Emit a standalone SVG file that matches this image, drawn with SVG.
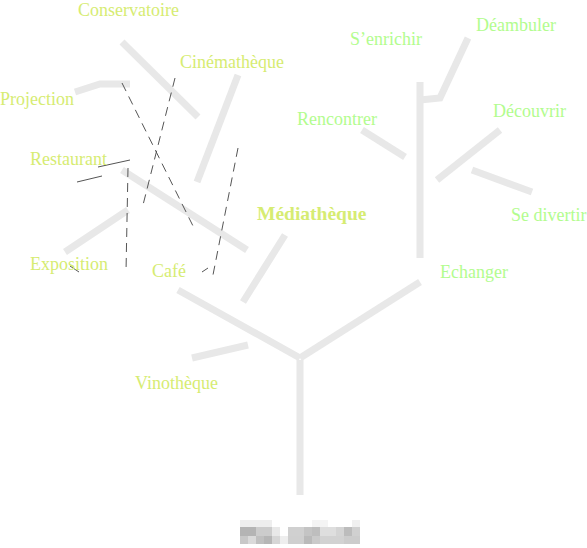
<svg xmlns="http://www.w3.org/2000/svg" width="587" height="548" viewBox="0 0 587 548">
<style>
.br{stroke:#e8e8e8;stroke-width:7;fill:none;stroke-linecap:butt}
.ds{stroke:#555;stroke-width:1;fill:none;stroke-dasharray:9 6}
.sl{stroke:#555;stroke-width:1;fill:none}
.ly{font-family:"Liberation Serif",serif;font-size:18px;fill:#d6ec72}
.lg{font-family:"Liberation Serif",serif;font-size:18px;fill:#b2fc8e}
.lb{font-family:"Liberation Serif",serif;font-size:19.5px;font-weight:bold;fill:#d6ec72}
</style>
<rect width="587" height="548" fill="#fff"/>
<g id="branches">
<path class="br" d="M300,360 L300,495"/>
<path class="br" d="M300,358 L178,290"/>
<path class="br" d="M300,358 L420,282"/>
<path class="br" d="M248,345 L192,358"/>
<path class="br" d="M285,235 L243,302"/>
<path class="br" d="M420,258 L420,82"/>
<path class="br" d="M468,38 L440,98 L420,100"/>
<path class="br" d="M362,130 L405,157"/>
<path class="br" d="M500,130 L437,180"/>
<path class="br" d="M472,170 L532,192"/>
<path class="br" d="M122,42 L198,117"/>
<path class="br" d="M238,75 L197,182"/>
<path class="br" d="M75,92 L100,84 L130,84"/>
<path class="br" d="M122,170 L247,250"/>
<path class="br" d="M65,252 L128,210"/>
</g>
<g id="connectors">
<path class="ds" d="M122,83 L195,230"/>
<path class="ds" d="M175,78 L143,205"/>
<path class="ds" d="M128,168 L126,272"/>
<path class="ds" d="M238,148 L212,280"/>
<path class="sl" d="M77,182 L102,176"/>
<path class="sl" d="M98,167 L130,160"/>
<path class="sl" d="M202,272 L208,268"/>
<path class="sl" d="M70,266 L79,272"/>
</g>
<g id="n-conservatoire"><text class="ly" x="78" y="16">Conservatoire</text></g>
<g id="n-cinematheque"><text class="ly" x="180" y="68">Cinémathèque</text></g>
<g id="n-projection"><text class="ly" x="0" y="105">Projection</text></g>
<g id="n-restaurant"><text class="ly" x="30" y="165">Restaurant</text></g>
<g id="n-exposition"><text class="ly" x="30" y="270">Exposition</text></g>
<g id="n-cafe"><text class="ly" x="152" y="277">Café</text></g>
<g id="n-mediatheque"><text class="lb" x="257" y="220">Médiathèque</text></g>
<g id="n-vinotheque"><text class="ly" x="135" y="389">Vinothèque</text></g>
<g id="n-senrichir"><text class="lg" x="350" y="45">S’enrichir</text></g>
<g id="n-deambuler"><text class="lg" x="476" y="31">Déambuler</text></g>
<g id="n-rencontrer"><text class="lg" x="297" y="125">Rencontrer</text></g>
<g id="n-decouvrir"><text class="lg" x="493" y="117">Découvrir</text></g>
<g id="n-sedivertir"><text class="lg" x="511" y="221">Se divertir</text></g>
<g id="n-echanger"><text class="lg" x="440" y="278">Echanger</text></g>
<g id="pixelated">
<rect x="240" y="520" width="32" height="7" fill="#eeeeee"/>
<rect x="312" y="520" width="16" height="7" fill="#f4f4f4"/>
<rect x="352" y="520" width="8" height="7" fill="#f0f0f0"/>
<rect x="240" y="527" width="16" height="9" fill="#b4b4b4"/>
<rect x="256" y="527" width="16" height="9" fill="#cccccc"/>
<rect x="272" y="527" width="8" height="9" fill="#e8e8e8"/>
<rect x="288" y="527" width="16" height="9" fill="#d0d0d0"/>
<rect x="304" y="527" width="8" height="9" fill="#c4c4c4"/>
<rect x="312" y="527" width="8" height="9" fill="#bebebe"/>
<rect x="320" y="527" width="16" height="9" fill="#dedede"/>
<rect x="336" y="527" width="8" height="9" fill="#d4d4d4"/>
<rect x="344" y="527" width="8" height="9" fill="#bcbcbc"/>
<rect x="352" y="527" width="8" height="9" fill="#d0d0d0"/>
<rect x="240" y="536" width="8" height="8" fill="#c8c8c8"/>
<rect x="248" y="536" width="8" height="8" fill="#dadada"/>
<rect x="256" y="536" width="8" height="8" fill="#c0c0c0"/>
<rect x="264" y="536" width="8" height="8" fill="#b6b6b6"/>
<rect x="272" y="536" width="8" height="8" fill="#d6d6d6"/>
<rect x="280" y="536" width="8" height="8" fill="#eeeeee"/>
<rect x="288" y="536" width="16" height="8" fill="#cfcfcf"/>
<rect x="304" y="536" width="8" height="8" fill="#bababa"/>
<rect x="312" y="536" width="8" height="8" fill="#cacaca"/>
<rect x="320" y="536" width="24" height="8" fill="#d2d2d2"/>
<rect x="344" y="536" width="16" height="8" fill="#cccccc"/>
</g>
</svg>
